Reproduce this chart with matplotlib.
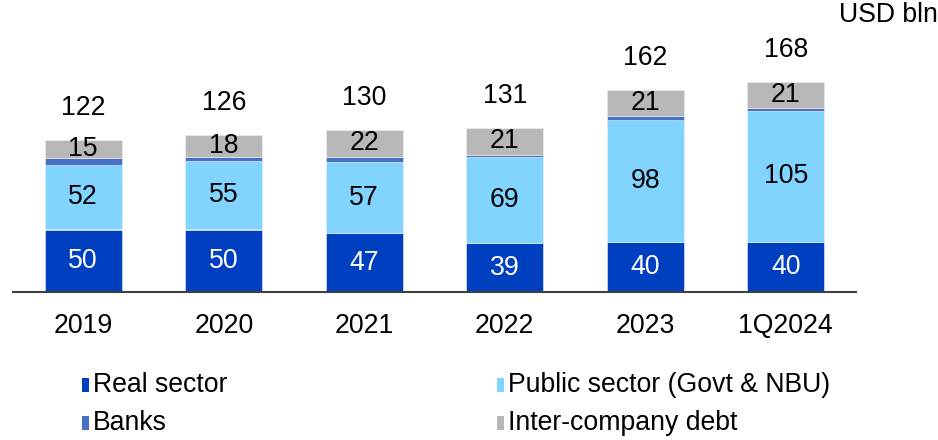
import matplotlib
matplotlib.use("Agg")
import matplotlib.pyplot as plt
from matplotlib.patches import Rectangle
import numpy as np

plt.rcParams['font.family'] = ['Liberation Sans', 'DejaVu Sans']

categories = ["2019", "2020", "2021", "2022", "2023", "1Q2024"]
real_sector = [50, 50, 47, 39, 40, 40]
public_sector = [52, 55, 57, 69, 98, 105]
banks = [5, 3, 4, 2, 3, 2]
intercompany = [15, 18, 22, 21, 21, 21]
totals = [122, 126, 130, 131, 162, 168]

series_names = ["Real sector", "Banks", "Public sector (Govt & NBU)", "Inter-company debt"]
legend_colors = ["#0040C0", "#4472C4", "#80D4FF", "#B8B8B8"]
stack_colors = ["#0040C0", "#80D4FF", "#4472C4", "#B8B8B8"]

W, H = 938, 440
fig = plt.figure(figsize=(W / 100, H / 100), dpi=100)
ax = fig.add_axes([13 / W, (H - 292) / H, 843 / W, 262 / H])
x = np.arange(len(categories))
width = 0.55

data = [real_sector, public_sector, banks, intercompany]
bottom = np.zeros(len(categories))
for vals, col in zip(data, stack_colors):
    vals = np.array(vals, dtype=float)
    ax.bar(x, vals, width, bottom=bottom, color=col, edgecolor="#F0F0F0", linewidth=0.4, zorder=2)
    bottom += vals

fs = 19.2
for i in range(len(categories)):
    ax.text(x[i], real_sector[i] / 2, str(real_sector[i]), ha="center", va="center",
            color="white", fontsize=fs)
    pb = real_sector[i]
    ax.text(x[i], pb + public_sector[i] / 2, str(public_sector[i]), ha="center", va="center",
            color="black", fontsize=fs)
    ib = pb + public_sector[i] + banks[i]
    ax.text(x[i], ib + intercompany[i] / 2, str(intercompany[i]), ha="center", va="center",
            color="black", fontsize=fs)
    top = ib + intercompany[i]
    ax.annotate(str(totals[i]), (x[i], top), xytext=(0, 23), textcoords="offset points",
                ha="center", va="center", fontsize=fs, color="black")

ax.set_xlim(-0.5, len(categories) - 0.5)
ax.set_ylim(0, 262 / 1.25)
for s in ["top", "left", "right"]:
    ax.spines[s].set_visible(False)
ax.spines["bottom"].set_color("#404040")
ax.spines["bottom"].set_linewidth(1.5)
ax.set_yticks([])
ax.set_xticks(x)
ax.set_xticklabels(categories, fontsize=fs)
ax.tick_params(axis="x", length=0, pad=15)

fig.text(938 / W, 1 - 15 / H, "USD bln", ha="right", va="center", fontsize=fs)

# legend
leg_pos = [(82, 385), (82, 423), (497, 385), (497, 423)]
for name, col, (lx, ly) in zip(series_names, legend_colors, leg_pos):
    fig.patches.append(Rectangle((lx / W, 1 - (ly + 7) / H), 7 / W, 14 / H,
                                 transform=fig.transFigure, facecolor=col, edgecolor="none"))
    fig.text((lx + 11) / W, 1 - ly / H, name, ha="left", va="center", fontsize=fs)

fig.savefig("out.png", dpi=100)
